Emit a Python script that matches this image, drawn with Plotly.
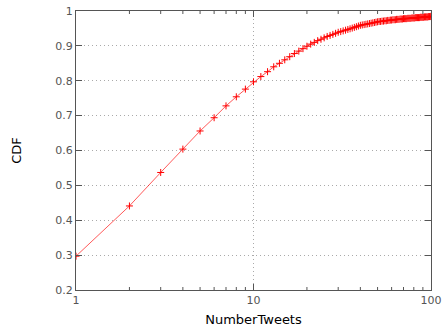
import plotly.graph_objects as go

number_tweets = list(range(1, 101))
cdf = [
    0.297, 0.441, 0.537, 0.604, 0.656, 0.694, 0.728, 0.754, 0.776, 0.797,
    0.812, 0.826, 0.840, 0.850, 0.860, 0.869, 0.878, 0.885, 0.892, 0.899,
    0.905, 0.910, 0.915, 0.919, 0.923, 0.927, 0.930, 0.933, 0.936, 0.939,
    0.941, 0.943, 0.945, 0.947, 0.949, 0.951, 0.953, 0.955, 0.957, 0.959,
    0.960, 0.961, 0.962, 0.963, 0.964, 0.965, 0.966, 0.967, 0.968, 0.969,
    0.970, 0.970, 0.971, 0.971, 0.972, 0.972, 0.973, 0.973, 0.974, 0.974,
    0.975, 0.975, 0.975, 0.976, 0.976, 0.976, 0.977, 0.977, 0.977, 0.978,
    0.978, 0.978, 0.978, 0.979, 0.979, 0.979, 0.979, 0.980, 0.980, 0.980,
    0.980, 0.981, 0.981, 0.981, 0.981, 0.981, 0.982, 0.982, 0.982, 0.982,
    0.982, 0.983, 0.983, 0.983, 0.983, 0.983, 0.984, 0.984, 0.984, 0.985,
]
x_tick_vals = [1, 10, 100]
x_tick_text = ["1", "10", "100"]
x_minor_vals = [2, 3, 4, 5, 6, 7, 8, 9, 20, 30, 40, 50, 60, 70, 80, 90]
y_tick_vals = [0.2, 0.3, 0.4, 0.5, 0.6, 0.7, 0.8, 0.9, 1.0]
y_tick_text = ["0.2", "0.3", "0.4", "0.5", "0.6", "0.7", "0.8", "0.9", "1"]

fig = go.Figure()
fig.add_trace(go.Scatter(
    x=number_tweets, y=cdf, mode="lines+markers",
    line=dict(color="rgba(255,0,0,0.65)", width=1),
    marker=dict(symbol="cross-thin", size=5, line=dict(color="red", width=1)),
    showlegend=False, cliponaxis=True, hoverinfo="skip",
))

# minor ticks on bottom and top edges (log positions via the x axis)
for v in x_minor_vals:
    for anchor, (a, b) in ((0, (0, 3)), (1, (-3, 0))):
        fig.add_shape(type="line", xref="x", yref="paper", x0=v, x1=v,
                      ysizemode="pixel", yanchor=anchor, y0=a, y1=b,
                      line=dict(color="#555", width=1))

axis_font = dict(family="DejaVu Sans", size=11, color="#555")
fig.update_layout(
    width=444, height=329,
    margin=dict(l=76, r=13, t=11, b=39, autoexpand=False),
    paper_bgcolor="white", plot_bgcolor="white",
    xaxis=dict(
        type="log", range=[0, 2], automargin=False,
        tickmode="array", tickvals=x_tick_vals, ticktext=x_tick_text,
        ticks="inside", ticklen=6, tickcolor="#555", tickwidth=1,
        showline=True, linecolor="#555", linewidth=1, mirror="allticks",
        showgrid=True, gridcolor="#aaa", griddash="1px,3px", gridwidth=1,
        zeroline=False, tickfont=axis_font,
        title=dict(text="NumberTweets", font=dict(family="DejaVu Sans", size=13, color="black"), standoff=8),
    ),
    yaxis=dict(
        range=[0.2, 1.0], automargin=False,
        tickmode="array", tickvals=y_tick_vals, ticktext=y_tick_text,
        ticks="inside", ticklen=6, tickcolor="#555", tickwidth=1,
        showline=True, linecolor="#555", linewidth=1, mirror="allticks",
        showgrid=True, gridcolor="#aaa", griddash="1px,3px", gridwidth=1,
        zeroline=False, tickfont=axis_font,
        title=dict(text="CDF", font=dict(family="DejaVu Sans", size=13, color="black"), standoff=30),
    ),
)

fig.write_html("out.html", config={"displayModeBar": False},
               post_script="document.body.style.margin='0';document.body.style.overflow='hidden';")
